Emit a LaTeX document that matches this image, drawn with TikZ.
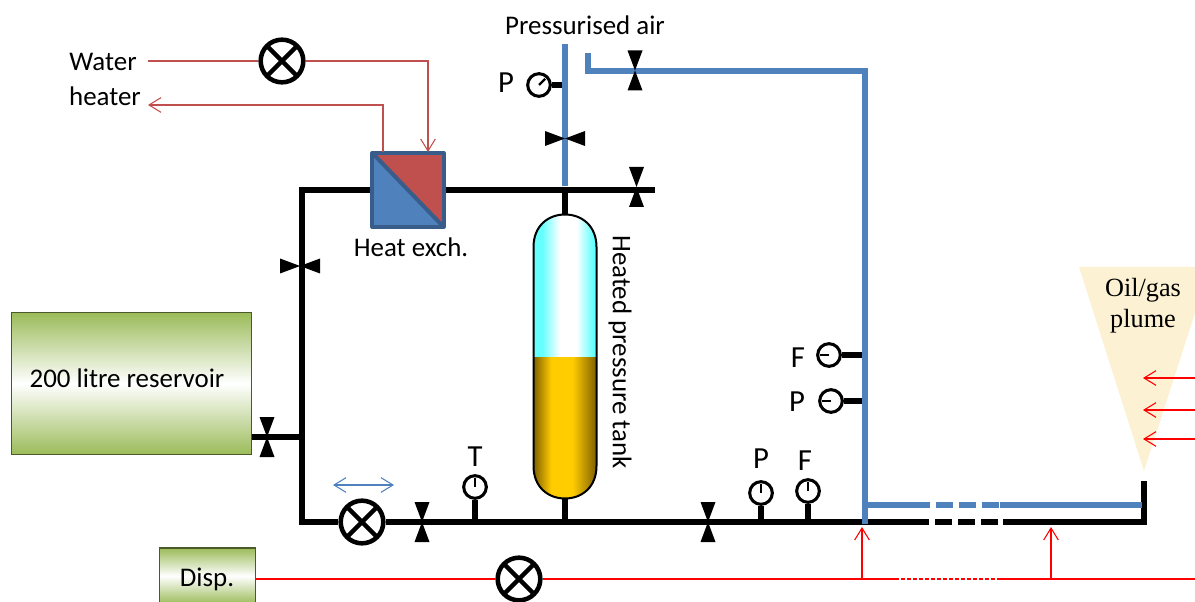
\documentclass[tikz,border=0pt]{standalone}
\usepackage{fontspec}
\setmainfont{Carlito}
\newfontfamily\plumefont{Liberation Serif}
\usetikzlibrary{arrows.meta,backgrounds}
\definecolor{pipeblue}{HTML}{4F81BD}
\definecolor{hxedge}{HTML}{385D8A}
\definecolor{hxred}{HTML}{C0504D}
\definecolor{boxgreen}{HTML}{9BBB59}
\definecolor{boxedge}{HTML}{4A5A2A}
\definecolor{aircyan}{HTML}{66FFFF}
\definecolor{oilgold}{HTML}{FFCC00}
\definecolor{oildark}{HTML}{7F6000}
\definecolor{plumecream}{HTML}{FDF1D3}
\pgfdeclarehorizontalshading{airshade}{100bp}{color(0bp)=(aircyan); color(32bp)=(aircyan); color(46bp)=(white); color(59bp)=(white); color(72bp)=(aircyan); color(100bp)=(aircyan)}
\pgfdeclarehorizontalshading{oilshade}{100bp}{color(0bp)=(oildark); color(25bp)=(oildark); color(39bp)=(oilgold); color(56bp)=(oilgold); color(75bp)=(oildark); color(100bp)=(oildark)}
\tikzset{
    pipe/.style={line width=4pt},
    airpipe/.style={line width=3.9pt, pipeblue},
    wire/.style={line width=0.8pt, red},
    hotwire/.style={line width=0.8pt, hxred},
    barb/.style={-{Straight Barb[length=9pt,width=11pt]}},
    vvalve/.style={rectangle, inner sep=0pt, outer sep=0pt, minimum width=11.25pt, minimum height=30pt,
        path picture={\fill (path picture bounding box.north west) -- (path picture bounding box.north east)
            -- (path picture bounding box.south west) -- (path picture bounding box.south east) -- cycle;}},
    hvalve/.style={rectangle, inner sep=0pt, outer sep=0pt, minimum width=30pt, minimum height=11.25pt,
        path picture={\fill (path picture bounding box.north west) -- (path picture bounding box.south west)
            -- (path picture bounding box.north east) -- (path picture bounding box.south east) -- cycle;}},
    pump/.style={circle, draw, fill=white, line width=3.4pt, inner sep=0pt, minimum size=32pt,
        path picture={\draw[line width=3.4pt] (path picture bounding box.north west) -- (path picture bounding box.south east)
            (path picture bounding box.north east) -- (path picture bounding box.south west);}},
    gauge/.style={circle, draw, fill=white, line width=2.3pt, inner sep=0pt, minimum size=17pt,
        path picture={\draw[line width=1.6pt] (path picture bounding box.center) -- ++(#1:6.5pt);}},
    greenbox/.style={rectangle, draw=boxedge, line width=0.8pt, top color=boxgreen, bottom color=boxgreen, middle color=white},
    lbl/.style={inner sep=0pt, font=\fontsize{20.2}{20.2}\selectfont},
    biglbl/.style={inner sep=0pt, font=\fontsize{23}{23}\selectfont},
}
\begin{document}
\begin{tikzpicture}[x=0.75pt, y=-0.75pt]
    \clip (0,0) rectangle (1195,602);

    % Plume
    \fill[plumecream] (1079,267) -- (1195,267) -- (1195,313) -- (1144,471) -- cycle;
    \node[inner sep=0pt, align=center, font=\plumefont\fontsize{19.7}{23.5}\selectfont] (plume) at (1143,306) {Oil/gas\\plume};

    % Reservoir and display
    \node[greenbox, minimum width=180.5pt, minimum height=107pt] (reservoir) at (131.5,383.5) {};
    \node[lbl] (reservoirlbl) at (127,378) {200 litre reservoir};
    \node[greenbox, minimum width=72pt, minimum height=42pt] (disp) at (207.5,576) {};
    \node[lbl] (displbl) at (207,579) {Disp.};

    % Heat exchanger
    \node[rectangle, inner sep=0pt, minimum width=53pt, minimum height=55pt] (hx) at (408,190) {};
    \fill[pipeblue] (hx.north west) -- (hx.south east) -- (hx.south west) -- cycle;
    \fill[hxred] (hx.north west) -- (hx.north east) -- (hx.south east) -- cycle;
    \draw[hxedge, line width=3pt, line join=round] (hx.north west) rectangle (hx.south east);
    \draw[hxedge, line width=3pt] (hx.north west) -- (hx.south east);
    \node[lbl] (hxlbl) at (411,247) {Heat exch.};

    % Tank
    \node[rectangle, inner sep=0pt, minimum width=47.25pt, minimum height=213pt] (tank) at (565,356.5) {};
    \shade[shading=airshade]
        (533.5,357) -- (533.5,247) .. controls (533.5,226) and (548,214.5) .. (565,214.5)
        .. controls (582,214.5) and (596.5,226) .. (596.5,247) -- (596.5,357) -- cycle;
    \shade[shading=oilshade]
        (533.5,357) -- (533.5,466) .. controls (533.5,487) and (548,498.5) .. (565,498.5)
        .. controls (582,498.5) and (596.5,487) .. (596.5,466) -- (596.5,357) -- cycle;
    \draw[line width=1.5pt] (533.5,357) -- (533.5,247) .. controls (533.5,226) and (548,214.5) .. (565,214.5)
        .. controls (582,214.5) and (596.5,226) .. (596.5,247) -- (596.5,466)
        .. controls (596.5,487) and (582,498.5) .. (565,498.5)
        .. controls (548,498.5) and (533.5,487) .. (533.5,466) -- cycle;
    \node[lbl, rotate=-90] (tanklbl) at (620,352) {Heated pressure tank};

    % Valves
    \node[vvalve] (vReservoir) at (267,437) {};
    \node[hvalve] (vLeft) at (300,266) {};
    \node[vvalve] (vBottomA) at (422,522) {};
    \node[vvalve] (vBottomB) at (708,522) {};
    \node[vvalve] (vTop) at (636.5,187) {};
    \node[hvalve] (vAir) at (565,138.5) {};
    \node[vvalve] (vAirB) at (635,70.5) {};

    % Pumps
    \node[pump] (pumpHeater) at (282,61) {};
    \node[pump] (pumpMain) at (362,522) {};
    \node[pump] (pumpDisp) at (519,579) {};

    % Gauges
    \node[gauge=45] (gaugeAir) at (539,85) {};
    \node[gauge=90] (gaugeT) at (475,487) {};
    \node[gauge=90] (gaugeP) at (761,493) {};
    \node[gauge=90] (gaugeF) at (808,491) {};
    \node[gauge=180] (gaugeFr) at (829,355) {};
    \node[gauge=180] (gaugePr) at (831,401) {};

    % Gauge labels
    \node[biglbl] (lblAir) at (506,83) {P};
    \node[biglbl] (lblT) at (475,457) {T};
    \node[biglbl] (lblP) at (761,459) {P};
    \node[biglbl] (lblF) at (805,461) {F};
    \node[biglbl] (lblFr) at (798,358) {F};
    \node[biglbl] (lblPr) at (797,402) {P};

    % Other labels
    \node[lbl] (water) at (103,62) {Water};
    \node[lbl] (heater) at (105,96) {heater};
    \node[lbl] (air) at (585,25) {Pressurised air};

    % Pipe corners
    \coordinate (cTL) at (302,190);
    \coordinate (cBL) at (302,522);
    \coordinate (cTee) at (565,190);
    \coordinate (cTopEnd) at (655,190);
    \coordinate (cLeftTee) at (302,437);
    \coordinate (cTankTop) at (565,215);
    \coordinate (cTankBot) at (565,498);
    \coordinate (cBotTee) at (565,522);
    \coordinate (cBlackA) at (912,522);
    \coordinate (cBlackB) at (1003,522);
    \coordinate (cBlackC) at (1144,522);
    \coordinate (cBlackD) at (1144,481);
    \coordinate (cAirTop) at (565,44);
    \coordinate (cAirBot) at (565,186);
    \coordinate (cAirA) at (588,53);
    \coordinate (cAirB) at (588,71);
    \coordinate (cAirC) at (865,71);
    \coordinate (cAirD) at (865,524);
    \coordinate (cAirE) at (865,505);
    \coordinate (cAirF) at (913,505);
    \coordinate (cAirG) at (1000,505);
    \coordinate (cAirH) at (1142,505);

    % Wire points
    \coordinate (wWater) at (148,61);
    \coordinate (wHeater) at (148,105);
    \coordinate (wInA) at (428,61);
    \coordinate (wInB) at (428,152);
    \coordinate (wOutA) at (383,105);
    \coordinate (wOutB) at (383,152);
    \coordinate (wA) at (862,579);
    \coordinate (wAtip) at (862,527);
    \coordinate (wB) at (1051,579);
    \coordinate (wBtip) at (1051,527);
    \coordinate (wC) at (895,579);
    \coordinate (wD) at (1000,579);
    \coordinate (wEnd) at (1195,579);
    \coordinate (wPlumeA) at (1195,378);
    \coordinate (wPlumeAtip) at (1143,378);
    \coordinate (wPlumeB) at (1195,410);
    \coordinate (wPlumeBtip) at (1143,410);
    \coordinate (wPlumeC) at (1195,439);
    \coordinate (wPlumeCtip) at (1143,439);
    \coordinate (wMoveA) at (333,485);
    \coordinate (wMoveB) at (394,485);

    % Connections
    \begin{scope}[on background layer]
        \draw[pipe] (hx.west) -- (cTL) -- (cBL) -- (pumpMain);
        \draw[pipe] (hx.east) -- (cTopEnd);
        \draw[pipe] (cTee) -- (cTankTop);
        \draw[pipe] (reservoir.east |- cLeftTee) -- (cLeftTee);
        \draw[pipe] (pumpMain) -- (cBlackA);
        \draw[pipe, dash pattern=on 12.75pt off 4.5pt] (cBlackA) -- (cBlackB);
        \draw[pipe, line join=miter] (cBlackB) -- (cBlackC) -- (cBlackD);
        \draw[pipe] (cBotTee) -- (cTankBot);
        \draw[pipe] (gaugeT) -- (gaugeT |- cBL);
        \draw[pipe] (gaugeP) -- (gaugeP |- cBL);
        \draw[pipe] (gaugeF) -- (gaugeF |- cBL);
        \draw[pipe] (gaugeAir) -- (gaugeAir -| cAirTop);
        \draw[pipe] (gaugeFr) -- (gaugeFr -| cAirC);
        \draw[pipe] (gaugePr) -- (gaugePr -| cAirC);
        \draw[airpipe] (cAirTop) -- (cAirBot);
        \draw[airpipe, line join=miter] (cAirA) -- (cAirB) -- (cAirC) -- (cAirD);
        \draw[airpipe] (cAirE) -- (cAirF);
        \draw[airpipe, dash pattern=on 12.75pt off 4.5pt] (cAirF) -- (cAirG);
        \draw[airpipe] (cAirG) -- (cAirH);
    \end{scope}
    \draw[hotwire] (wWater) -- (pumpHeater);
    \draw[hotwire, barb] (pumpHeater) -- (wInA) -- (wInB);
    \draw[hotwire, barb] (wOutB) -- (wOutA) -- (wHeater);
    \draw[wire] (disp.east |- pumpDisp) -- (pumpDisp);
    \draw[wire] (pumpDisp) -- (wC);
    \draw[wire, dash pattern=on 3pt off 1.5pt] (wC) -- (wD);
    \draw[wire] (wD) -- (wEnd);
    \draw[wire, barb] (wA) -- (wAtip);
    \draw[wire, barb] (wB) -- (wBtip);
    \draw[wire, barb] (wPlumeA) -- (wPlumeAtip);
    \draw[wire, barb] (wPlumeB) -- (wPlumeBtip);
    \draw[wire, barb] (wPlumeC) -- (wPlumeCtip);
    \draw[line width=0.8pt, pipeblue, {Straight Barb[length=9pt,width=11pt]}-{Straight Barb[length=9pt,width=11pt]}] (wMoveA) -- (wMoveB);
\end{tikzpicture}
\end{document}
